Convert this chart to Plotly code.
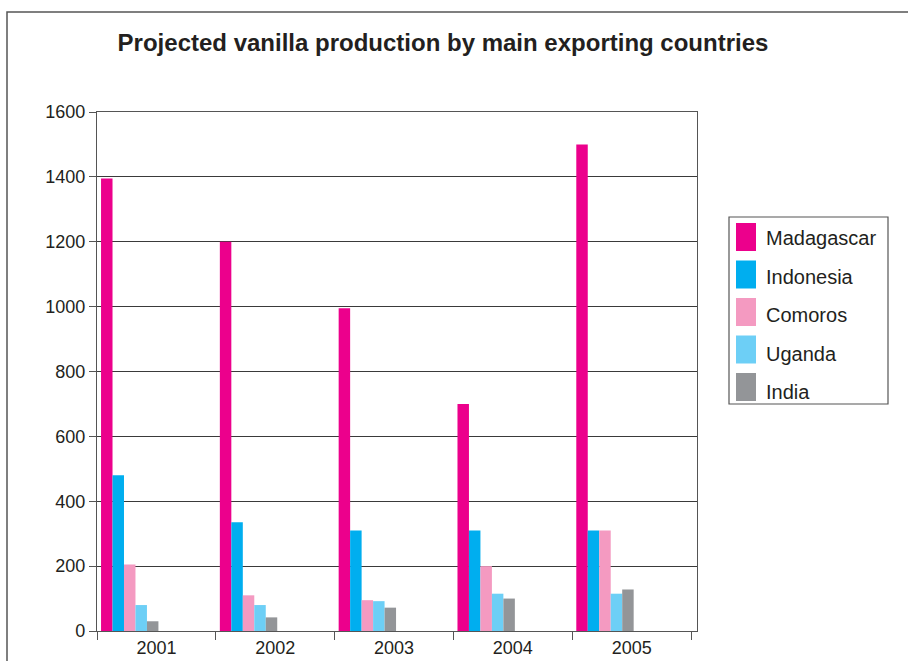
import plotly.graph_objects as go

years = ["2001", "2002", "2003", "2004", "2005"]
madagascar = [1395, 1200, 995, 700, 1500]
indonesia = [480, 335, 310, 310, 310]
comoros = [205, 110, 95, 200, 310]
uganda = [80, 80, 92, 115, 115]
india = [30, 42, 72, 100, 128]

series_names = ["Madagascar", "Indonesia", "Comoros", "Uganda", "India"]
series_values = [madagascar, indonesia, comoros, uganda, india]
colors = ["#EC008C", "#00AEEF", "#F49AC1", "#6DCFF6", "#939598"]
y_ticks = [0, 200, 400, 600, 800, 1000, 1200, 1400, 1600]

W, H = 908, 661
L, R, T, B = 97, 697, 112, 631
FONT = "Liberation Sans, Arial, Helvetica, sans-serif"
TXT = "#231f20"

def px(x):
    return (x - L) / (R - L)

def py(y):
    return (B - y) / (B - T)

fig = go.Figure()
bw = 0.0966
start = -0.5 + 0.034
for i, (name, vals, col) in enumerate(zip(series_names, series_values, colors)):
    fig.add_trace(go.Bar(
        x=years, y=vals, name=name, marker_color=col, marker_line_width=0,
        width=bw, offset=start + i * bw, showlegend=False,
    ))

shapes = []
annotations = []
# outer frame (top and left visible)
shapes.append(dict(type="rect", xref="paper", yref="paper",
                   x0=px(7), x1=px(930), y0=py(700), y1=py(12),
                   line=dict(color="#555", width=1.5), fillcolor="rgba(0,0,0,0)", layer="below"))
# legend box
shapes.append(dict(type="rect", xref="paper", yref="paper",
                   x0=px(729), x1=px(888), y0=py(404), y1=py(217),
                   line=dict(color="#555", width=1.2), fillcolor="white"))
for i, (name, col) in enumerate(zip(series_names, colors)):
    cy = 237 + 37.5 * i
    shapes.append(dict(type="rect", xref="paper", yref="paper",
                       x0=px(736), x1=px(756), y0=py(cy + 14), y1=py(cy - 14),
                       line=dict(width=0), fillcolor=col))
    annotations.append(dict(xref="paper", yref="paper", x=px(764), y=py(238 + 38.5 * i),
                            text=name, showarrow=False, xanchor="left", yanchor="middle",
                            font=dict(family=FONT, size=20, color=TXT)))

fig.update_layout(
    width=W, height=H,
    margin=dict(l=L, r=W - R, t=T, b=H - B, pad=0, autoexpand=False),
    paper_bgcolor="white", plot_bgcolor="white",
    barmode="overlay",
    title=dict(text="<b>Projected vanilla production by main exporting countries</b>",
               x=443 / W, xanchor="center", y=1 - 43 / H, yanchor="middle",
               font=dict(family=FONT, size=24, color=TXT)),
    font=dict(family=FONT, size=18, color=TXT),
    shapes=shapes, annotations=annotations,
    xaxis=dict(type="category", range=[-0.5, 4.55], tickson="boundaries", automargin=False,
               ticks="outside", ticklen=8, tickcolor="#555", tickwidth=1.2,
               showgrid=False, showline=True, linecolor="#555", linewidth=1.3, mirror=True,
               tickfont=dict(family=FONT, size=18, color=TXT)),
    yaxis=dict(range=[0, 1600], tickvals=y_ticks, ticks="outside", ticklen=7, automargin=False,
               tickcolor="#555", tickwidth=1.2, showgrid=True, gridcolor="#3a3a3a", gridwidth=1,
               showline=True, linecolor="#555", linewidth=1.3, mirror=True, zeroline=False,
               tickfont=dict(family=FONT, size=18, color=TXT)),
)

fig.write_html("out.html")
